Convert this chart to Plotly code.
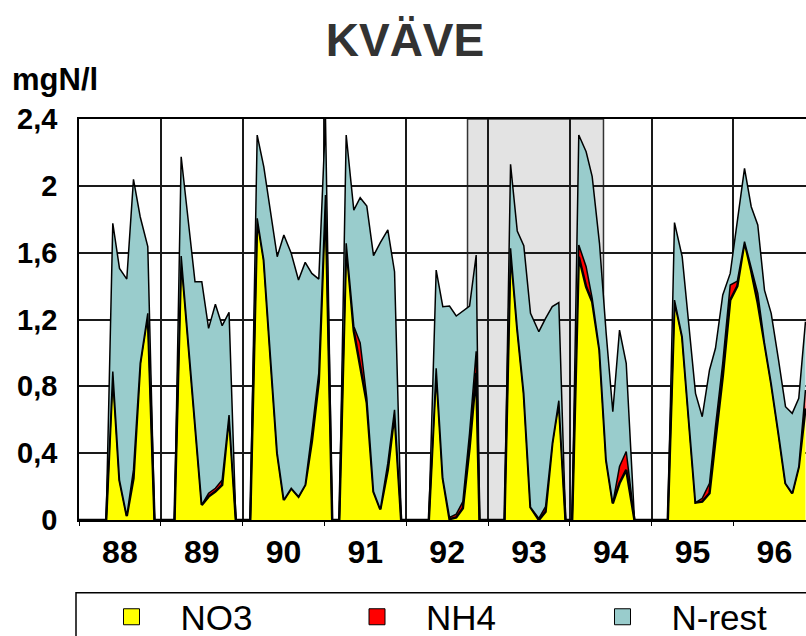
import plotly.graph_objects as go

# ---- data ----
x_time = [
    1988.000, 1988.332, 1988.413, 1988.495, 1988.584, 1988.666, 1988.748, 1988.841, 1988.923,
    1989.167, 1989.249, 1989.332, 1989.418, 1989.501, 1989.584, 1989.667, 1989.750, 1989.834, 1989.917,
    1990.093, 1990.178, 1990.259, 1990.340, 1990.423, 1990.504, 1990.594, 1990.683, 1990.765, 1990.846, 1990.931,
    1991.013, 1991.095,
    1991.181, 1991.266, 1991.359, 1991.437, 1991.518, 1991.600, 1991.683, 1991.775, 1991.857, 1991.938,
    1992.276, 1992.366, 1992.447, 1992.529, 1992.611, 1992.692, 1992.774, 1992.855, 1992.896,
    1993.201, 1993.275, 1993.357, 1993.437, 1993.519, 1993.621, 1993.703, 1993.785, 1993.865, 1993.947,
    1994.028, 1994.109, 1994.199, 1994.273, 1994.362, 1994.444, 1994.525, 1994.607, 1994.689, 1994.790,
    1995.197, 1995.279, 1995.373, 1995.454, 1995.536, 1995.618, 1995.707, 1995.780, 1995.869, 1995.960,
    1996.047, 1996.135, 1996.217, 1996.297, 1996.379, 1996.461, 1996.550, 1996.636, 1996.718, 1996.798,
    1996.880,
]
no3 = [
    0, 0, 0.888, 0.239, 0.024, 0.25, 0.938, 1.237, 0,
    0, 1.58, 1.08, 0.59, 0.09, 0.14, 0.17, 0.21, 0.628, 0,
    0, 1.806, 1.556, 0.98, 0.40, 0.12, 0.19, 0.14, 0.21, 0.47, 0.83,
    1.945, 0,
    0, 1.656, 1.13, 0.92, 0.70, 0.17, 0.064, 0.30, 0.64, 0,
    0, 0.908, 0.25, 0.005, 0.015, 0.07, 0.43, 0.88, 0,
    0, 1.626, 1.147, 0.758, 0.076, 0.0, 0.05, 0.459, 0.714, 0,
    0, 1.576, 1.396, 1.306, 1.017, 0.359, 0.10, 0.22, 0.30, 0,
    0, 1.316, 1.097, 0.60, 0.104, 0.11, 0.16, 0.48, 0.86, 1.316,
    1.40, 1.666, 1.49, 1.297, 1.05, 0.818, 0.52, 0.219, 0.16, 0.319,
    0.668,
]
nh4 = [
    0, 0, 0, 0, 0, 0.05, 0, 0, 0,
    0, 0, 0, 0, 0, 0.02, 0.02, 0.03, 0, 0,
    0, 0, 0, 0, 0, 0, 0, 0, 0, 0.05, 0.05,
    0, 0,
    0, 0, 0.03, 0.14, 0.03, 0, 0, 0.04, 0.02, 0,
    0, 0, 0, 0.01, 0.02, 0.04, 0.09, 0.13, 0,
    0, 0, 0, 0, 0, 0.01, 0.03, 0, 0, 0,
    0, 0.07, 0.12, 0.02, 0, 0, 0, 0.10, 0.11, 0,
    0, 0, 0, 0, 0, 0.02, 0.06, 0.08, 0.08, 0.09,
    0.03, 0, 0.02, 0.06, 0.01, 0, 0, 0, 0, 0,
    0.11,
]
n_rest = [
    0, 0, 0.888, 1.267, 1.418, 1.739, 0.877, 0.399, 0,
    0, 0.594, 0.72, 0.836, 1.336, 0.987, 1.101, 0.923, 0.615, 0,
    0, 0.498, 0.558, 0.87, 1.176, 1.586, 1.406, 1.296, 1.332, 0.956, 0.562,
    0.455, 0,
    0, 0.648, 0.695, 0.869, 1.149, 1.412, 1.596, 1.396, 0.826, 0,
    0, 0.588, 1.027, 1.266, 1.186, 1.14, 0.76, 0.576, 0,
    0, 0.503, 0.583, 0.884, 1.161, 1.117, 1.127, 0.818, 0.587, 0,
    0, 0.658, 0.688, 0.729, 0.639, 0.758, 0.548, 0.817, 0.528, 0,
    0, 0.464, 0.479, 0.57, 0.654, 0.488, 0.678, 0.468, 0.407, 0.07,
    0.35, 0.439, 0.365, 0.409, 0.316, 0.419, 0.44, 0.459, 0.478, 0.409,
    0.409,
]

series_names = ["NO3", "NH4", "N-rest"]
series_colors = ["#ffff00", "#ff0000", "#99cccc"]

year_labels = ["88", "89", "90", "91", "92", "93", "94", "95", "96"]
year_centers = [1988.5, 1989.5, 1990.5, 1991.5, 1992.5, 1993.5, 1994.5, 1995.5, 1996.5]
year_bounds = [1988, 1989, 1990, 1991, 1992, 1993, 1994, 1995, 1996]

y_tick_vals = [0, 0.4, 0.8, 1.2, 1.6, 2.0, 2.4]
y_tick_text = ["0", "0,4", "0,8", "1,2", "1,6", "2", "2,4"]

shade_period = [1992.749, 1994.411]

FONT = "Liberation Sans, Arial, sans-serif"

fig = go.Figure()

line_widths = [2.5, 1.5, 1.5]
for name, vals, color, lw in zip(series_names, [no3, nh4, n_rest], series_colors, line_widths):
    fig.add_trace(go.Scatter(
        x=x_time, y=vals, name=name, stackgroup="n", mode="lines",
        line=dict(color="black", width=lw), fillcolor=color,
        showlegend=False, hoverinfo="skip",
    ))

legend_ids = ["legend", "legend2", "legend3"]
for name, color, lid in zip(series_names, series_colors, legend_ids):
    fig.add_trace(go.Scatter(
        x=[None], y=[None], name=name, mode="markers",
        marker=dict(symbol="square", size=16, color=color, line=dict(color="black", width=1)),
        legend=lid, showlegend=True,
    ))

legend_x_px = [82.5, 328, 573.5]
legend_common = dict(
    xref="container", yref="container", xanchor="left", yanchor="middle",
    y=1 - 617 / 636, itemwidth=88, bgcolor="rgba(0,0,0,0)", borderwidth=0,
    font=dict(family=FONT, size=35, color="black"),
)

W, H = 806, 636
ML, MR, MT, MB = 79, 0, 119, 116

fig.update_layout(
    width=W, height=H,
    margin=dict(l=ML, r=MR, t=MT, b=MB, autoexpand=False),
    paper_bgcolor="white", plot_bgcolor="white",
    font=dict(family=FONT, color="black"),
    title=dict(
        text="KVÄVE", x=405 / W, xanchor="center", xref="container",
        y=1 - 39.7 / H, yanchor="middle", yref="container",
        font=dict(family=FONT, size=46, color="#333333", weight="bold"),
    ),
    legend=dict(x=legend_x_px[0] / W, **legend_common),
    legend2=dict(x=legend_x_px[1] / W, **legend_common),
    legend3=dict(x=legend_x_px[2] / W, **legend_common),
    xaxis=dict(
        range=[1988, 1988 + (W - ML - MR) / 81.81],
        tickmode="array", tickvals=year_centers, ticktext=year_labels,
        showgrid=False, zeroline=False, ticks="",
        tickfont=dict(family=FONT, size=32, color="black", weight="bold"),
        ticklabelstandoff=3,
        showline=True, linecolor="black", linewidth=1.5, mirror=True,
        minor=dict(tickvals=year_bounds, showgrid=True, gridcolor="#1a1a1a", gridwidth=1.5,
                   ticks="outside", ticklen=4, tickcolor="black"),
    ),
    yaxis=dict(
        range=[0, 2.4], tickmode="array", tickvals=y_tick_vals, ticktext=y_tick_text,
        showgrid=True, gridcolor="#1a1a1a", gridwidth=1.5, zeroline=False,
        showline=True, linecolor="black", linewidth=1.5, ticks="",
        tickfont=dict(family=FONT, size=29, color="black", weight="bold"),
        ticklabelstandoff=14,
    ),
    shapes=[
        dict(type="rect", xref="x", yref="y", x0=shade_period[0], x1=shade_period[1], y0=0, y1=2.4,
             fillcolor="#e3e3e3", line=dict(color="#333333", width=1.5), layer="below"),
        dict(type="rect", xref="paper", yref="paper",
             x0=(76 - ML) / (W - ML - MR), x1=1.3,
             y0=-(592.7 - (H - MB)) / (H - MT - MB), y1=-0.6,
             line=dict(color="black", width=1.5), fillcolor="rgba(0,0,0,0)"),
    ],
    annotations=[
        dict(text="mgN/l", xref="paper", yref="paper", showarrow=False,
             x=(10 - ML) / (W - ML - MR), xanchor="left",
             y=((H - MB) - 80) / (H - MT - MB), yanchor="middle",
             font=dict(family=FONT, size=31, color="black", weight="bold")),
    ],
)

fig.write_html("out.html")
